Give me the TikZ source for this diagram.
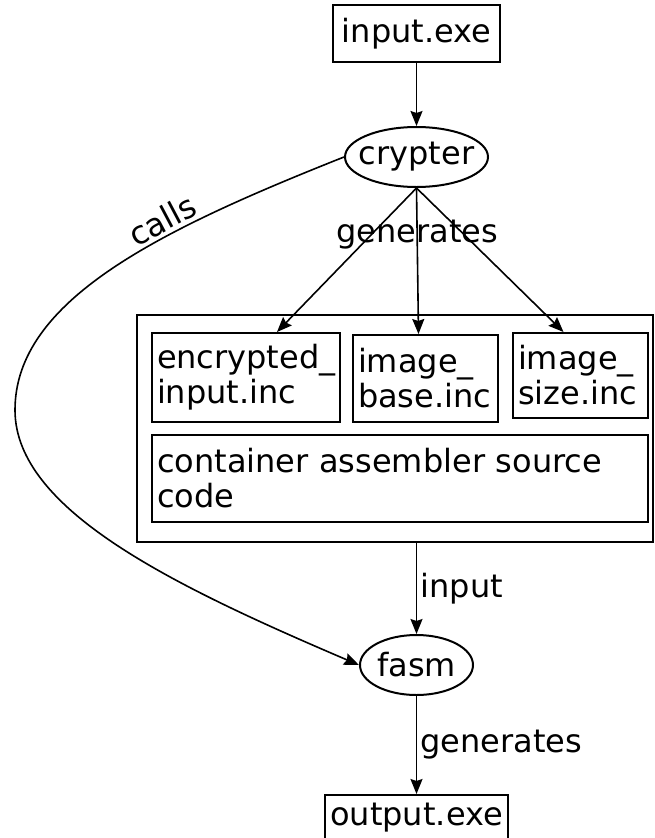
\documentclass[tikz,border=0pt]{standalone}
\usepackage{fontspec}
\setmainfont{DejaVu Sans}
\usetikzlibrary{positioning,arrows.meta,shapes.geometric,calc}
\tikzset{
    file/.style={rectangle,draw,line width=2pt,inner sep=0pt},
    filetxt/.style={file,align=left,inner xsep=5pt},
    prog/.style={ellipse,draw,line width=2pt,inner xsep=-12pt,inner ysep=0pt},
    edge/.style={-{Stealth[length=15pt,width=12pt,inset=2pt]},line width=1.6pt},
}

\begin{document}
\begin{tikzpicture}[
    x=1pt,y=-1pt,
    every node/.style={font=\fontsize{32}{35}\selectfont},
]
\useasboundingbox (0,0) rectangle (654,838);
\node[file,minimum width=167pt,minimum height=57pt] (inexe) at (416.5,33.5) {input.exe};
\node[prog,minimum width=143pt,minimum height=60pt] (crypter) at (416.5,157) {crypter};
\node[file,minimum width=516pt,minimum height=227pt] (container) at (395,428.5) {};
\node[filetxt,text width=178pt,minimum height=89pt] (enc) at (246,377.5) {encrypted\_\\input.inc};
\node[filetxt,text width=135pt,minimum height=87pt] (base) at (425.5,378.5) {image\_\\base.inc};
\node[filetxt,text width=125pt,minimum height=85pt] (size) at (580.5,375.5) {image\_\\size.inc};
\node[filetxt,text width=486pt,minimum height=87pt] (code) at (400,478.5) {container assembler source\\code};
\node[prog,minimum width=113pt,minimum height=60pt] (fasm) at (416.5,665) {fasm};
\node[file,minimum width=183pt,minimum height=46pt] (outexe) at (416.5,818) {output.exe};
\coordinate (bend) at (15,410);

\draw[edge] (inexe) -- (crypter);
\draw[edge] (crypter.south) -- ([xshift=31pt]enc.north);
\draw[edge] (crypter.south) -- node[pos=0.32] {generates} ([xshift=-7pt]base.north);
\draw[edge] (crypter.south) -- ([xshift=-17pt]size.north);
\draw[edge] (container.south -| fasm) -- node[right] {input} (fasm);
\draw[edge] (fasm) -- node[right] {generates} (outexe);
% crypter calls fasm
\draw[edge] (crypter.west) .. controls (160,230) and (15,300) .. (bend)
    node[pos=0.35,sloped,above,inner sep=3pt] {calls}
    .. controls (15,510) and (174,586) .. (fasm.west);
\end{tikzpicture}
\end{document}
